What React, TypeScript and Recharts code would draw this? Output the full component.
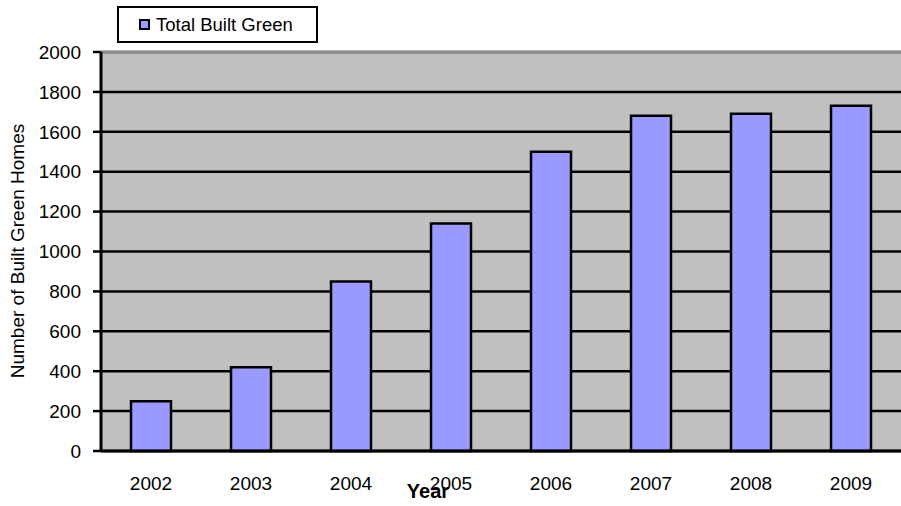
import React from "react";
import {
  BarChart,
  Bar,
  XAxis,
  YAxis,
  CartesianGrid,
  ReferenceLine,
} from "recharts";

const years = ["2002", "2003", "2004", "2005", "2006", "2007", "2008", "2009"];
const totalBuiltGreen = [250, 420, 850, 1140, 1500, 1680, 1690, 1730];
const yTicks = [0, 200, 400, 600, 800, 1000, 1200, 1400, 1600, 1800, 2000];
const edgeTicks = [0, 1, 2, 3, 4, 5, 6, 7, 8];
const seriesName = "Total Built Green";

const data = years.map((y, i) => ({ year: y, idx: i + 0.5, value: totalBuiltGreen[i] }));

const FONT = "Liberation Sans, Arial, sans-serif";

const LegendBox = () => (
  <div
    style={{
      position: "absolute",
      left: 117,
      top: 6,
      border: "2px solid #000",
      background: "#fff",
      width: 201,
      height: 37,
      boxSizing: "border-box",
      display: "flex",
      alignItems: "center",
      paddingLeft: 20,
      fontFamily: FONT,
      fontSize: 18.5,
      color: "#000",
      whiteSpace: "nowrap",
    }}
  >
    <span
      style={{
        display: "inline-block",
        width: 7,
        height: 7,
        background: "#9999FF",
        border: "2px solid #000",
        marginRight: 6,
      }}
    />
    {seriesName}
  </div>
);

export default function App() {
  return (
    <div style={{ position: "absolute", left: 0, top: 0, width: 901, height: 506, background: "#fff" }}>
      <BarChart
        width={901}
        height={506}
        data={data}
        margin={{ top: 52, right: 0, bottom: 0, left: 0 }}
        barCategoryGap="30%"
      >
        <CartesianGrid vertical={false} stroke="#000" strokeWidth={2.5} fill="#C0C0C0" fillOpacity={1} />
        <XAxis
          xAxisId="edges"
          type="number"
          dataKey="idx"
          domain={[0, 8]}
          ticks={edgeTicks}
          height={0}
          axisLine={false}
          tickLine={{ stroke: "#000", strokeWidth: 2.5 }}
          tickSize={7}
          tick={() => <g />}
          allowDataOverflow
        />
        <XAxis
          dataKey="year"
          height={55}
          axisLine={{ stroke: "#000", strokeWidth: 3 }}
          tickLine={false}
          tickSize={0}
          tickMargin={26}
          tick={{ fill: "#000", fontFamily: FONT, fontSize: 19 }}
          interval={0}
        />
        <YAxis
          width={101}
          domain={[0, 2000]}
          ticks={yTicks}
          interval={0}
          axisLine={{ stroke: "#000", strokeWidth: 3 }}
          tickLine={{ stroke: "#000", strokeWidth: 2.5 }}
          tickSize={8}
          tickMargin={12}
          tick={{ fill: "#000", fontFamily: FONT, fontSize: 19 }}
        />
        <ReferenceLine y={2000} stroke="#8C8C8C" strokeWidth={2.5} />
        <Bar
          dataKey="value"
          name={seriesName}
          fill="#9999FF"
          stroke="#000"
          strokeWidth={2.5}
          isAnimationActive={false}
        />
        <text
          x={17}
          y={251}
          transform="rotate(-90 17 251)"
          textAnchor="middle"
          dominantBaseline="central"
          fontFamily={FONT}
          fontSize={19}
          fill="#000"
        >
          Number of Built Green Homes
        </text>
        <text x={428} y={498} textAnchor="middle" fontFamily={FONT} fontSize={20} fontWeight="bold" fill="#000">
          Year
        </text>
      </BarChart>
      <LegendBox />
    </div>
  );
}
